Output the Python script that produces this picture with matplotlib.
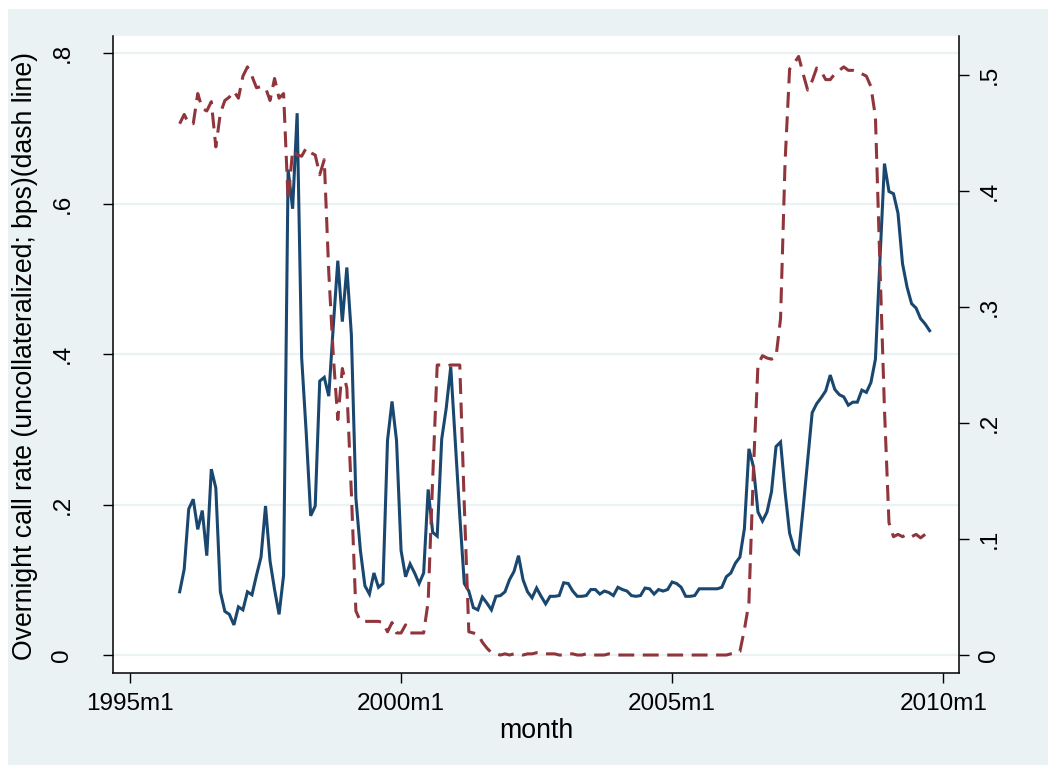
import matplotlib
matplotlib.use("Agg")
import matplotlib.pyplot as plt
import numpy as np
import pandas as pd
from matplotlib.patches import Rectangle

plt.rcParams['font.family'] = ['Liberation Sans', 'DejaVu Sans']

# monthly data, first obs 1995m12
start_month = '1995-12'

# overnight call rate, left axis (solid)
call_rate = [
    0.084, 0.114, 0.194, 0.207, 0.167, 0.192, 0.132, 0.247, 0.222, 0.084,
    0.058, 0.054, 0.040, 0.064, 0.060, 0.084, 0.080, 0.106, 0.130, 0.198,
    0.125, 0.087, 0.054, 0.106, 0.645, 0.593, 0.720, 0.395, 0.296, 0.185,
    0.198, 0.364, 0.369, 0.344, 0.437, 0.524, 0.443, 0.515, 0.426, 0.209,
    0.139, 0.092, 0.081, 0.109, 0.090, 0.095, 0.285, 0.337, 0.285, 0.139,
    0.104, 0.121, 0.109, 0.095, 0.109, 0.220, 0.163, 0.158, 0.287, 0.328,
    0.383, 0.285, 0.185, 0.095, 0.085, 0.063, 0.060, 0.077, 0.069, 0.060,
    0.078, 0.079, 0.084, 0.100, 0.111, 0.132, 0.100, 0.084, 0.076, 0.089,
    0.078, 0.068, 0.078, 0.078, 0.079, 0.096, 0.095, 0.085, 0.078, 0.078,
    0.079, 0.087, 0.087, 0.081, 0.085, 0.083, 0.079, 0.090, 0.087, 0.085,
    0.079, 0.078, 0.079, 0.089, 0.088, 0.081, 0.087, 0.085, 0.087, 0.097,
    0.095, 0.090, 0.078, 0.078, 0.079, 0.088, 0.088, 0.088, 0.088, 0.088,
    0.090, 0.104, 0.109, 0.122, 0.130, 0.168, 0.274, 0.250, 0.190, 0.178,
    0.190, 0.217, 0.277, 0.283, 0.217, 0.162, 0.141, 0.135, 0.195, 0.258,
    0.322, 0.334, 0.342, 0.351, 0.372, 0.353, 0.346, 0.343, 0.332, 0.336,
    0.336, 0.352, 0.349, 0.362, 0.393, 0.525, 0.653, 0.616, 0.613, 0.587,
    0.520, 0.489, 0.467, 0.461, 0.447, 0.440, 0.431,
]

# dash line, right axis
dash_rate = [
    0.458, 0.466, 0.458, 0.458, 0.484, 0.471, 0.469, 0.477, 0.438, 0.467,
    0.478, 0.481, 0.486, 0.480, 0.499, 0.507, 0.499, 0.489, 0.490, 0.489,
    0.478, 0.497, 0.480, 0.484, 0.392, 0.435, 0.431, 0.430, 0.437, 0.433,
    0.431, 0.414, 0.427, 0.330, 0.258, 0.203, 0.247, 0.230, 0.140, 0.038,
    0.029, 0.029, 0.029, 0.029, 0.029, 0.028, 0.020, 0.028, 0.019, 0.019,
    0.026, 0.019, 0.019, 0.019, 0.019, 0.046, 0.152, 0.250, 0.250, 0.249,
    0.250, 0.250, 0.250, 0.129, 0.020, 0.019, 0.018, 0.011, 0.006, 0.002,
    0.001, 0.000, 0.001, 0.000, 0.001, 0.001, 0.000, 0.001, 0.001, 0.002,
    0.002, 0.001, 0.001, 0.001, 0.000, 0.000, 0.001, 0.001, 0.000, 0.000,
    0.001, 0.000, 0.000, 0.000, 0.000, 0.001, 0.000, 0.000, 0.000, 0.000,
    0.000, 0.000, 0.000, 0.000, 0.000, 0.000, 0.000, 0.000, 0.000, 0.000,
    0.000, 0.000, 0.000, 0.000, 0.000, 0.000, 0.000, 0.000, 0.000, 0.000,
    0.000, 0.000, 0.001, 0.001, 0.003, 0.022, 0.045, 0.160, 0.250, 0.258,
    0.256, 0.255, 0.257, 0.290, 0.425, 0.505, 0.510, 0.516, 0.501, 0.487,
    0.495, 0.506, 0.503, 0.496, 0.496, 0.501, 0.504, 0.507, 0.504, 0.504,
    0.503, 0.501, 0.499, 0.490, 0.464, 0.336, 0.212, 0.114, 0.102, 0.104,
    0.102, 0.104, 0.102, 0.104, 0.101, 0.104, 0.107,
]

tick_months = ['1995-01', '2000-01', '2005-01', '2010-01']
left_ticks = [0, 0.2, 0.4, 0.6, 0.8]
right_ticks = [0, 0.1, 0.2, 0.3, 0.4, 0.5]

BLUE = '#1A476F'
RED = '#90353B'
BG = '#EAF2F3'
FS = 17.5
FS_TITLE = 19.2


def month_num(p):
    # months since 1995m1
    return (p.year - 1995) * 12 + p.month - 1


def stata_num(v):
    s = ('%g' % v)
    return '0' if s == '0' else s.lstrip('0')


months = pd.period_range(start_month, periods=len(call_rate), freq='M')
x = month_num(months)
tp = pd.PeriodIndex(tick_months, freq='M')
tx = month_num(tp)
tlabels = ['%dm%d' % (p.year, p.month) for p in tp]

W, H = 1052, 770
fig = plt.figure(figsize=(W / 100, H / 100), dpi=100)
fig.patch.set_facecolor('white')
fig.patches.append(Rectangle((8 / W, 1 - 765 / H), (1048 - 8) / W, (765 - 9) / H,
                             transform=fig.transFigure, facecolor=BG,
                             edgecolor='none', zorder=-10))

ax = fig.add_axes([113 / W, 1 - 673 / H, 846 / W, 637 / H])
ax.set_facecolor('white')
ax2 = ax.twinx()

ax.plot(x, call_rate, color=BLUE, lw=2.2, solid_joinstyle='miter')
ax2.plot(x, dash_rate, color=RED, lw=2.2, linestyle=(0, (5.2, 2.8)),
         dash_capstyle='butt')

ax.set_xlim(-3.76, 183.5)
ax.set_ylim(-0.0239, 0.8226)
ax2.set_ylim(-0.0155, 0.5336)

ax.set_xticks(tx, tlabels)
ax.set_yticks(left_ticks, [stata_num(v) for v in left_ticks])
ax2.set_yticks(right_ticks, [stata_num(v) for v in right_ticks])

ax.grid(axis='y', color=BG, lw=1.6)
ax.grid(axis='x', visible=False)
ax.set_axisbelow(True)

for s in ['top', 'right']:
    ax.spines[s].set_visible(False)
for s in ['top', 'left', 'bottom']:
    ax2.spines[s].set_visible(False)
for sp in [ax.spines['left'], ax.spines['bottom'], ax2.spines['right']]:
    sp.set_linewidth(1.1)
    sp.set_color('black')

ax.tick_params(axis='x', direction='out', length=7.5, width=1, labelsize=FS, pad=7)
ax.tick_params(axis='y', direction='out', length=7.5, width=1, labelsize=FS,
               pad=21, labelrotation=90)
ax2.tick_params(axis='y', direction='out', length=7.5, width=1, labelsize=FS,
                pad=6.5, labelrotation=90)
for lbl in ax.get_yticklabels() + ax2.get_yticklabels():
    lbl.set_va('center')

ax.set_xlabel('month', fontsize=FS_TITLE)
ax.xaxis.label.set_va('center')
ax.xaxis.set_label_coords(0.5, (673 - 731) / 637)

# y title placed by pixel centre (x=25, centred on the plot region)
fig.text(25 / W, 1 - 356 / H, 'Overnight call rate (uncollateralized; bps)(dash line)',
         fontsize=FS_TITLE, rotation=90, ha='center', va='center')

fig.savefig('out.png', dpi=100, facecolor=fig.get_facecolor())
